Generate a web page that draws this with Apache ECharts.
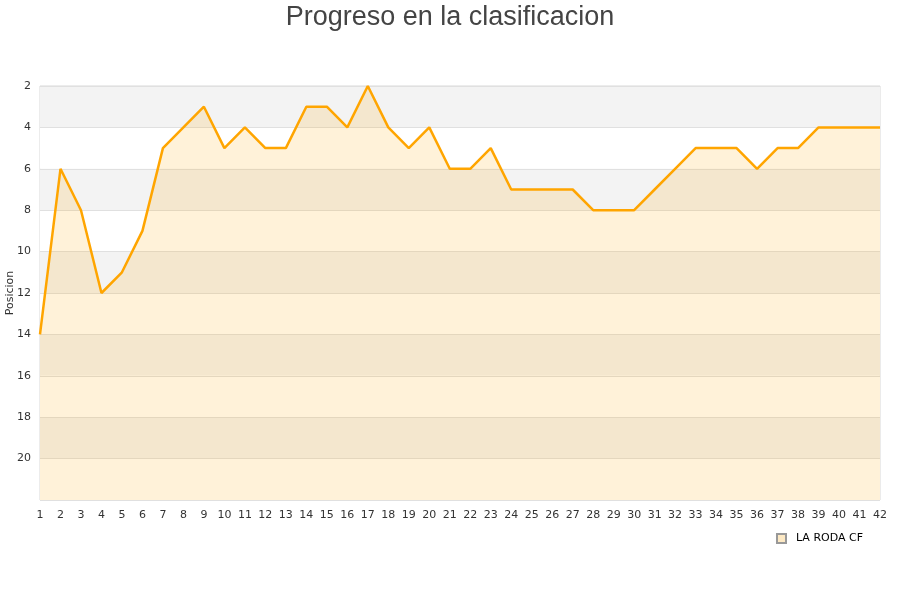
<!DOCTYPE html>
<html><head><meta charset="utf-8">
<script src="https://cdn.jsdelivr.net/npm/echarts@6/dist/echarts.min.js"></script>
<style>html,body{margin:0;padding:0;background:#fff}#c{width:900px;height:600px}</style>
</head><body><div id="c"></div>
<script>
var jornadas = [];
for (var i = 1; i <= 42; i++) jornadas.push(String(i));
var posiciones = [14,6,8,12,11,9,5,4,3,5,4,5,5,3,3,4,2,4,5,4,6,6,5,7,7,7,7,8,8,8,7,6,5,5,5,6,5,5,4,4,4,4];
var serieNombre = 'LA RODA CF';
var titulo = 'Progreso en la clasificacion';
var ejeY = 'Posicion';

var chart = echarts.init(document.getElementById('c'));
chart.setOption({
  animation: false,
  title: {text: titulo, left: 'center', top: -1,
    textStyle: {fontFamily: 'Liberation Sans', fontSize: 27, fontWeight: 'normal', color: '#444'}},
  grid: {left: 40, right: 20, top: 86, bottom: 100, outerBoundsMode: 'none', containLabel: false,
    show: true, borderColor: '#d8d8d8', borderWidth: 1, backgroundColor: 'transparent'},
  legend: {data: [{name: serieNombre, icon: 'rect'}], right: 32, top: 528, itemWidth: 9, itemHeight: 9,
    textStyle: {fontFamily: 'DejaVu Sans', fontSize: 11, color: '#000', padding: [0, 0, 0, 5]}},
  xAxis: {type: 'category', data: jornadas, boundaryGap: false,
    axisLine: {show: false}, axisTick: {show: false},
    axisLabel: {fontFamily: 'DejaVu Sans', fontSize: 11, color: '#333', margin: 10, interval: 0},
    splitLine: {show: false}},
  yAxis: {type: 'value', inverse: true, min: 2, max: 22, interval: 2,
    name: ejeY, nameLocation: 'middle', nameGap: 24, nameMoveOverlap: false,
    nameTextStyle: {fontFamily: 'DejaVu Sans', fontSize: 11, color: '#333'},
    axisLine: {show: false}, axisTick: {show: false},
    axisLabel: {fontFamily: 'DejaVu Sans', fontSize: 11, color: '#333', margin: 9, showMaxLabel: false},
    splitLine: {show: true, lineStyle: {color: '#e0e0e0', width: 1}},
    splitArea: {show: true, areaStyle: {color: ['#f3f3f3', '#ffffff']}}},
  series: [{
    name: serieNombre, type: 'line', data: posiciones, symbol: 'none',
    lineStyle: {color: '#ffa500', width: 2.5},
    itemStyle: {color: '#fde9c4', borderColor: '#999', borderWidth: 1},
    areaStyle: {color: 'rgba(255,165,0,0.21)', origin: 'end'}
  }]
});
</script></body></html>
